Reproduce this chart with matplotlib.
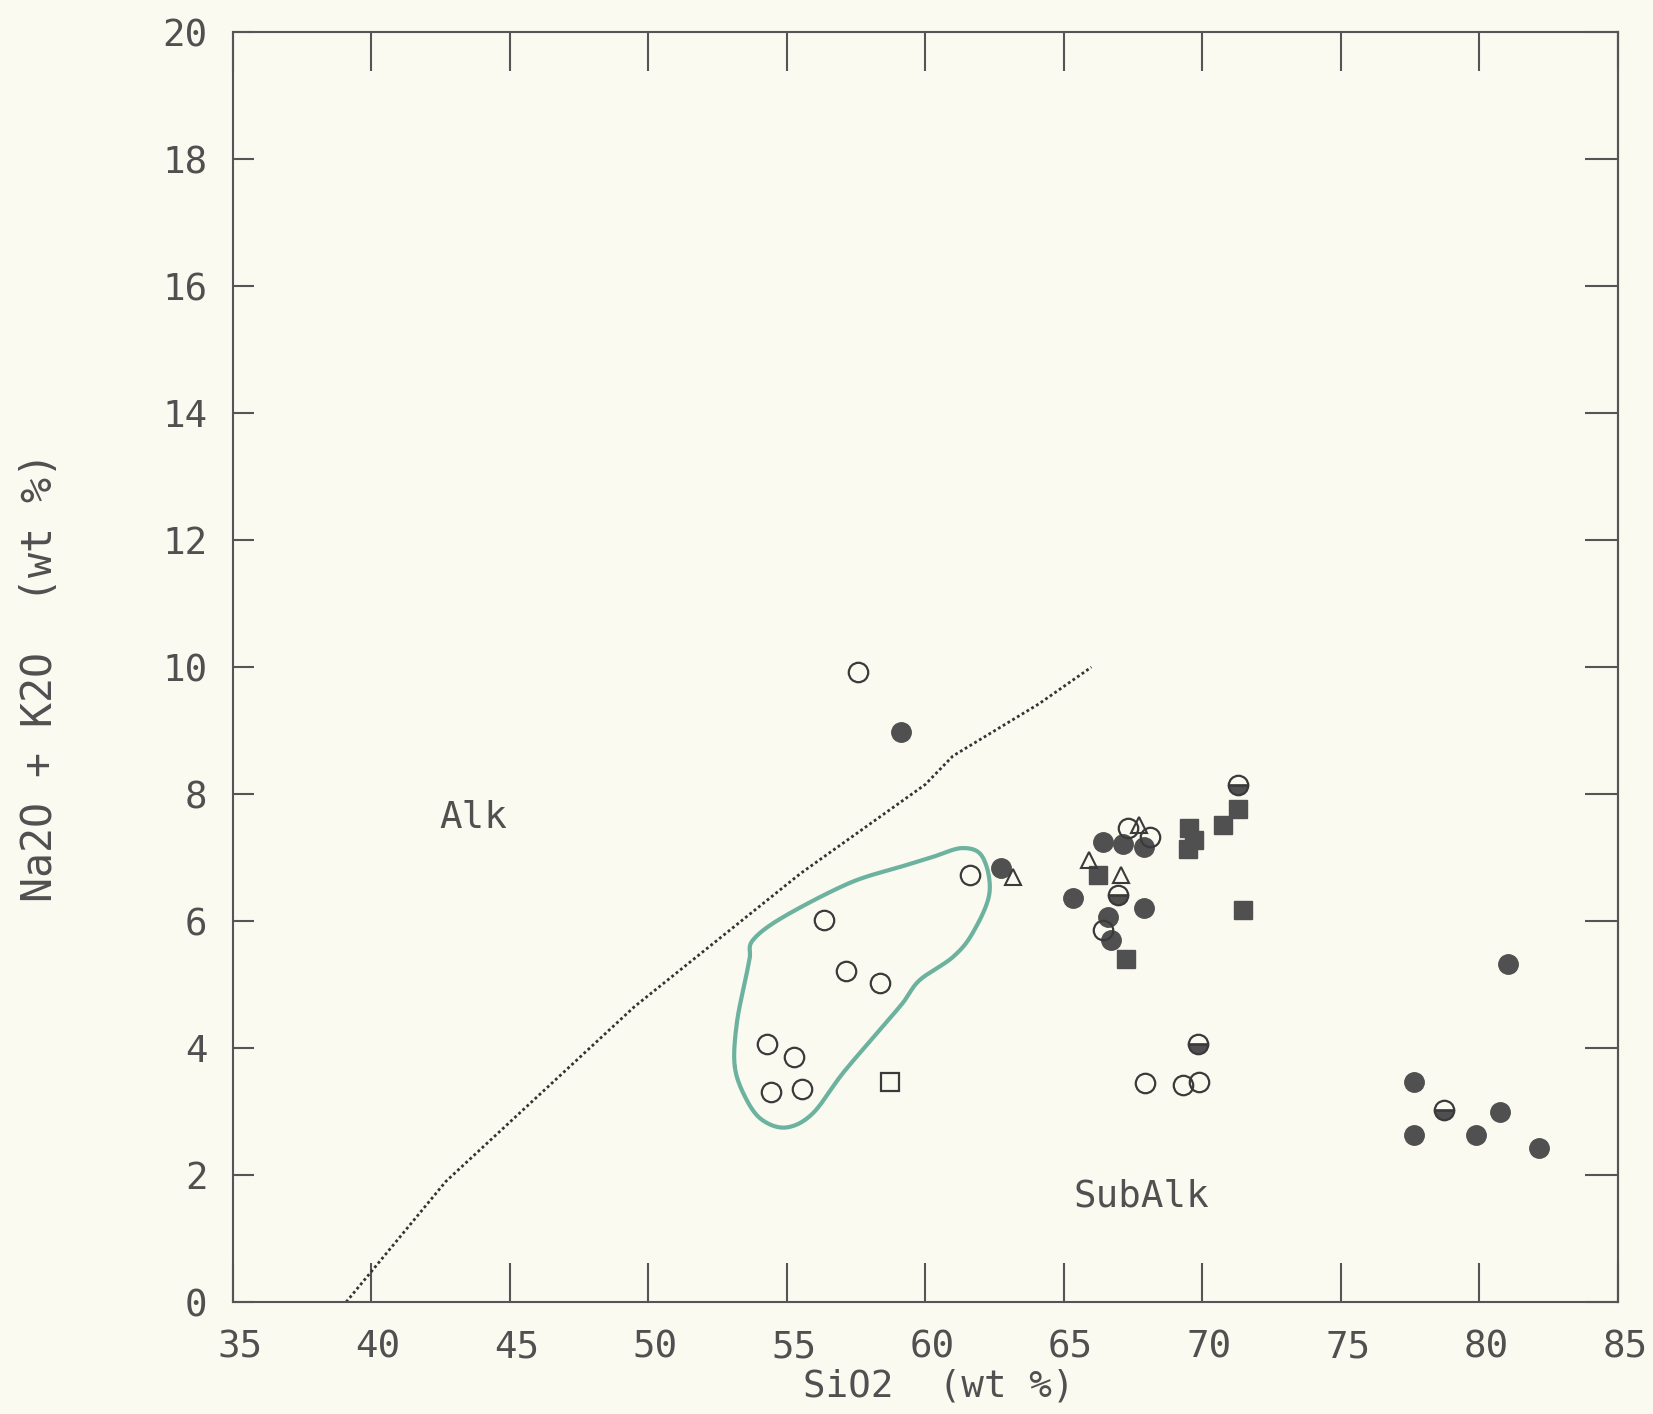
import matplotlib
matplotlib.use("Agg")
import matplotlib.pyplot as plt
import matplotlib.transforms as mtransforms
import numpy as np

# TAS-style plot: SiO2 vs total alkalis
open_circle_x = [57.57, 61.63, 56.33, 57.15, 58.36, 54.29, 55.25, 54.45, 55.57,
                 67.95, 69.30, 69.87, 67.31, 68.10, 66.41]
open_circle_y = [9.92, 6.72, 6.01, 5.22, 5.02, 4.06, 3.86, 3.31, 3.36,
                 3.45, 3.42, 3.47, 7.46, 7.33, 5.86]

filled_circle_x = [59.14, 62.74, 66.41, 67.13, 67.91, 67.91, 65.33, 66.59, 66.71,
                   81.02, 77.65, 80.74, 77.65, 79.88, 82.16]
filled_circle_y = [8.98, 6.83, 7.25, 7.22, 7.17, 6.20, 6.36, 6.07, 5.70,
                   5.33, 3.47, 3.00, 2.63, 2.63, 2.42]

half_circle_x = [69.84, 78.73, 71.28, 66.95]
half_circle_y = [4.07, 3.02, 8.14, 6.41]

filled_square_x = [66.23, 67.25, 69.54, 69.72, 69.48, 70.74, 71.28, 71.48]
filled_square_y = [6.72, 5.41, 7.46, 7.27, 7.14, 7.51, 7.77, 6.17]

open_square_x = [58.74]
open_square_y = [3.47]

triangle_x = [63.16, 65.93, 67.07, 67.73]
triangle_y = [6.69, 6.96, 6.72, 7.51]

# alkaline / subalkaline dividing line
divider_x = [39.1, 42.7, 49.5, 55.5, 60.0, 61.0, 64.1, 66.0]
divider_y = [0.0, 1.9, 4.65, 6.75, 8.15, 8.6, 9.42, 10.0]

# hand-drawn green outline round the andesite group
outline_x = [53.13, 53.20, 53.56, 53.67, 53.78, 54.86, 57.27, 59.08, 60.27, 61.35,
             62.07, 62.32, 61.71, 60.99, 59.80, 59.19, 58.25, 57.02, 55.94, 55.00,
             54.14, 53.56]
outline_y = [3.70, 4.39, 5.18, 5.43, 5.70, 6.06, 6.60, 6.85, 7.01, 7.15,
             7.01, 6.44, 5.81, 5.43, 5.07, 4.71, 4.23, 3.60, 2.97, 2.75,
             2.86, 3.18]

x_ticks = [35, 40, 45, 50, 55, 60, 65, 70, 75, 80, 85]
y_ticks = [0, 2, 4, 6, 8, 10, 12, 14, 16, 18, 20]

BG = "#fafaf1"
INK = "#505050"
FONT = "DejaVu Sans Mono"


def closed_smooth(x, y, n=20):
    pts = np.column_stack([x, y])
    count = len(pts)
    t = np.linspace(0, 1, n, endpoint=False)[:, None]
    parts = []
    for i in range(count):
        p0, p1, p2, p3 = pts[i - 1], pts[i], pts[(i + 1) % count], pts[(i + 2) % count]
        parts.append(0.5 * (2 * p1 + (-p0 + p2) * t
                            + (2 * p0 - 5 * p1 + 4 * p2 - p3) * t ** 2
                            + (-p0 + 3 * p1 - 3 * p2 + p3) * t ** 3))
    curve = np.vstack(parts + [parts[0][:1]])
    return curve[:, 0], curve[:, 1]


fig = plt.figure(figsize=(16.53, 14.14), dpi=100, facecolor=BG)
ax = fig.add_axes([0.1407, 0.0792, 0.838, 0.898], facecolor=BG)

ax.plot(divider_x, divider_y, linestyle=(0, (1, 1.0)), color="#333333", lw=2.0)

ox, oy = closed_smooth(outline_x, outline_y)
ax.plot(ox, oy, color="#48a08a", lw=3.0, alpha=0.8, solid_capstyle="round")

ax.plot(filled_square_x, filled_square_y, "s", ms=13, mfc="#505050", mec="#505050", mew=1.0)
ax.plot(filled_circle_x, filled_circle_y, "o", ms=14, mfc="#505050", mec="#505050", mew=1.0)
ax.plot(open_square_x, open_square_y, "s", ms=13, mfc="none", mec="#3a3a3a", mew=1.6)
ax.plot(triangle_x, triangle_y, "^", ms=11, mfc="none", mec="#3a3a3a", mew=1.5)
ax.plot(open_circle_x, open_circle_y, "o", ms=14, mfc="none", mec="#3a3a3a", mew=1.6)
ax.plot(half_circle_x, half_circle_y, "o", ms=14, fillstyle="bottom", mfc="#505050",
        markerfacecoloralt="none", mec="#3a3a3a", mew=1.6)

ax.text(43.7, 7.63, "Alk", fontsize=27, family=FONT, color=INK, ha="center", va="center")
ax.text(67.8, 1.66, "SubAlk", fontsize=27, family=FONT, color=INK, ha="center", va="center")

ax.set_xlim(35, 85)
ax.set_ylim(0, 20)
ax.set_xticks(x_ticks)
ax.set_yticks(y_ticks)
ax.set_xticklabels([str(v) for v in x_ticks], family=FONT, fontsize=27, color=INK)
ax.set_yticklabels([str(v) for v in y_ticks], family=FONT, fontsize=27, color=INK)

ax.tick_params(axis="x", direction="in", length=28, width=1.5, color="#555555",
               top=True, bottom=True, pad=20)
ax.tick_params(axis="y", direction="in", length=15, width=1.5, color="#555555",
               left=True, right=False, pad=18)

# right-hand ticks are longer than the left ones
right = ax.secondary_yaxis("right")
right.set_yticks(y_ticks)
right.tick_params(direction="in", length=24, width=1.5, color="#555555", labelright=False)
right.spines["right"].set_color("#555555")
right.spines["right"].set_linewidth(1.5)

shift = mtransforms.ScaledTranslation(0.07, 0, fig.dpi_scale_trans)
for label in ax.get_xticklabels():
    label.set_transform(label.get_transform() + shift)

for spine in ax.spines.values():
    spine.set_color("#555555")
    spine.set_linewidth(1.5)

ax.set_xlabel("SiO2  (wt %)", family=FONT, fontsize=27, color=INK)
ax.xaxis.set_label_coords(0.51, -0.052)
ax.set_ylabel("Na2O + K2O  (wt %)", family=FONT, fontsize=30, color=INK)
ax.yaxis.set_label_coords(-0.124, 0.492)

fig.savefig("out.png", dpi=100, facecolor=BG)
